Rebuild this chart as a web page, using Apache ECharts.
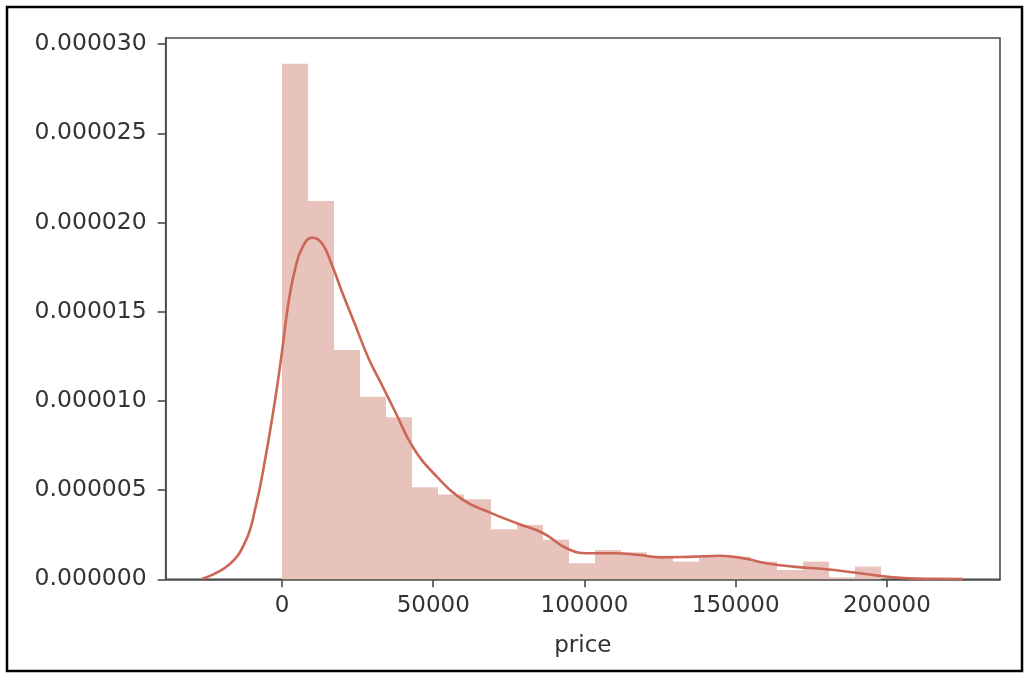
<!DOCTYPE html>
<html>
<head>
<meta charset="utf-8">
<script src="https://cdn.jsdelivr.net/npm/echarts@6/dist/echarts.min.js"></script>
<style>
html,body{margin:0;padding:0;background:#fff;}
#chart{width:1034px;height:684px;}
</style>
</head>
<body>
<div id="chart"></div>
<script>
// Histogram (density) of price: 23 equal-width bins from binMin to binMax
var binMin = 0;
var binMax = 198200;
var densities = [28.90e-6, 21.20e-6, 12.85e-6, 10.23e-6, 9.08e-6, 5.16e-6, 4.76e-6, 4.48e-6,
                 2.80e-6, 3.04e-6, 2.22e-6, 0.90e-6, 1.64e-6, 1.51e-6, 1.32e-6, 0.99e-6,
                 1.36e-6, 1.27e-6, 0.99e-6, 0.52e-6, 0.99e-6, 0.11e-6, 0.71e-6];

// KDE curve
var kdeX = [-26420, -17640, -12120, -8820, -5520, -2210, 0, 2180, 4390, 6600, 9910, 13210,
            16510, 19820, 24210, 28600, 33030, 37420, 43460, 51190, 59970, 68790, 77610, 86390,
            94110, 100720, 109500, 118330, 124930, 135930, 144750, 152440, 160170, 168950,
            179990, 190980, 201980, 213000, 225100];
var kdeY = [0.03e-6, 0.80e-6, 2.11e-6, 3.98e-6, 6.78e-6, 10.15e-6, 12.76e-6, 15.56e-6, 17.43e-6,
            18.55e-6, 19.15e-6, 18.83e-6, 17.62e-6, 16.12e-6, 14.25e-6, 12.39e-6, 10.89e-6, 9.39e-6,
            7.36e-6, 5.75e-6, 4.44e-6, 3.74e-6, 3.14e-6, 2.58e-6, 1.74e-6, 1.46e-6, 1.46e-6, 1.36e-6,
            1.23e-6, 1.27e-6, 1.32e-6, 1.18e-6, 0.90e-6, 0.71e-6, 0.56e-6, 0.34e-6, 0.11e-6, 0.03e-6,
            0.02e-6];

var xTicks = [0, 50000, 100000, 150000, 200000];
var yTicks = [0, 0.000005, 0.00001, 0.000015, 0.00002, 0.000025, 0.00003];

var xMin = -38460, xMax = 237400;
var yMin = 0, yMax = 0.00003034;

var binWidth = (binMax - binMin) / densities.length;
var histData = densities.map(function (d, i) {
  return [binMin + i * binWidth, binMin + (i + 1) * binWidth, d];
});
var kdeData = kdeX.map(function (x, i) { return [x, kdeY[i]]; });

var chart = echarts.init(document.getElementById('chart'), null, {renderer: 'canvas'});
var font = 'DejaVu Sans';
var axisColor = '#4a4a4a';
var textColor = '#333333';
chart.setOption({
  backgroundColor: '#ffffff',
  animation: false,
  graphic: [{
    type: 'rect',
    shape: {x: 7, y: 7, width: 1015, height: 664},
    style: {fill: 'none', stroke: '#000', lineWidth: 2.5},
    silent: true
  }],
  grid: {
    left: 165.7, right: 34, top: 38, bottom: 104.7,
    show: true, borderColor: axisColor, borderWidth: 1.6, backgroundColor: 'transparent'
  },
  xAxis: {
    type: 'value', min: xMin, max: xMax,
    name: 'price', nameLocation: 'middle', nameGap: 55,
    nameTextStyle: {fontFamily: font, fontSize: 23, color: textColor},
    splitLine: {show: false},
    axisLine: {show: true, onZero: false, lineStyle: {color: axisColor, width: 1.6}},
    axisTick: {show: true, length: 8, customValues: xTicks, lineStyle: {color: axisColor, width: 1.6}},
    axisLabel: {customValues: xTicks, margin: 15, fontFamily: font, fontSize: 23, color: textColor,
      formatter: function (v) { return String(v); }}
  },
  yAxis: {
    type: 'value', min: yMin, max: yMax,
    splitLine: {show: false},
    axisLine: {show: true, onZero: false, lineStyle: {color: axisColor, width: 1.6}},
    axisTick: {show: true, length: 8, customValues: yTicks, lineStyle: {color: axisColor, width: 1.6}},
    axisLabel: {customValues: yTicks, margin: 19, fontFamily: font, fontSize: 23.5, color: textColor,
      formatter: function (v) { return v.toFixed(6); }}
  },
  series: [{
    type: 'custom',
    data: histData,
    encode: {x: [0, 1], y: 2},
    renderItem: function (params, api) {
      var p0 = api.coord([api.value(0), api.value(2)]);
      var p1 = api.coord([api.value(1), 0]);
      var x0 = Math.round(p0[0]), x1 = Math.round(p1[0]);
      return {
        type: 'rect',
        shape: {x: x0, y: p0[1], width: x1 - x0, height: p1[1] - p0[1]},
        style: {fill: '#e7c3bc'}
      };
    },
    z: 1
  }, {
    type: 'line',
    data: kdeData,
    smooth: 0.45,
    showSymbol: false,
    symbol: 'none',
    lineStyle: {color: '#cc6656', width: 2.6},
    z: 3
  }]
});
</script>
</body>
</html>
